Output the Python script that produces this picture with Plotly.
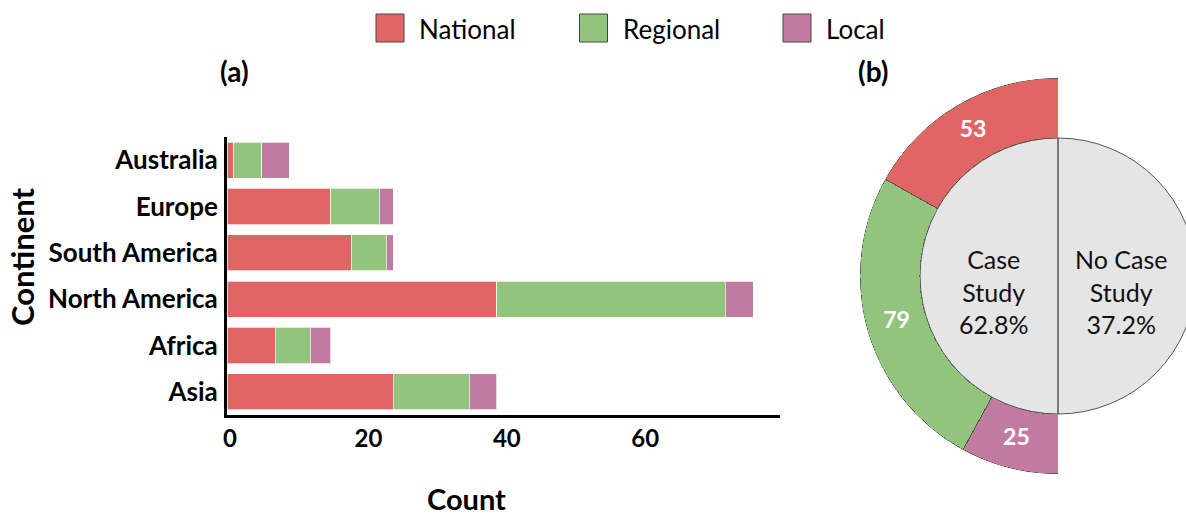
import plotly.graph_objects as go

# ---------------- data ----------------
continents = ["Australia", "Europe", "South America", "North America", "Africa", "Asia"]
national = [1, 15, 18, 39, 7, 24]
regional = [4, 7, 5, 33, 5, 11]
local = [4, 2, 1, 4, 3, 4]

scale_names = ["National", "Regional", "Local"]
case_study_by_scale = [53, 79, 25]
no_case_study = 93

colors = ["#E06666", "#93C47D", "#C27BA0"]

W, H = 1186, 518
FONT = "Lato"


def px(x):
    return x / W


def py(y):
    return 1 - y / H


def label(text, x, y, size, **kw):
    font = dict(family=FONT, size=size, color=kw.pop("color", "black"))
    if "weight" in kw:
        font["weight"] = kw.pop("weight")
    d = dict(text=text, x=px(x), y=py(y), xref="paper", yref="paper",
             xanchor=kw.pop("xanchor", "center"), yanchor="middle",
             showarrow=False, font=font)
    d.update(kw)
    return d


fig = go.Figure()

# ---------------- (a) stacked horizontal bars ----------------
for name, vals, col in zip(scale_names, [national, regional, local], colors):
    fig.add_trace(go.Bar(
        y=continents, x=vals, name=name, orientation="h",
        marker=dict(color=col, line=dict(color="rgba(255,255,255,0.7)", width=1)),
        showlegend=False,
    ))

fig.update_layout(
    barmode="stack",
    bargap=0.22,
    xaxis=dict(
        domain=[px(227), px(780)], range=[0, 79.9], automargin=False,
        tickvals=[0, 20, 40, 60], showgrid=False, zeroline=False,
        showline=True, linecolor="black", linewidth=3,
        ticks="", ticklabelstandoff=0, ticklabelshift=3,
        tickfont=dict(family=FONT, size=24, color="black", weight="bold"),
        anchor="y",
    ),
    yaxis=dict(
        domain=[py(415), py(137)], autorange="reversed", automargin=False,
        showgrid=False, zeroline=False,
        showline=True, linecolor="black", linewidth=3,
        ticks="", ticklabelstandoff=1,
        tickfont=dict(family=FONT, size=26, color="black", weight="bold"),
        anchor="x",
    ),
)

# ---------------- (b) half ring + inner circle ----------------
CX, CY = 1058, 276
R_OUT, R_IN = 198, 138

total_case = sum(case_study_by_scale)
thetas, widths = [], []
cum = 0
for v in case_study_by_scale:
    w = v / total_case * 180
    thetas.append(cum + w / 2)
    widths.append(w)
    cum += w

fig.add_trace(go.Barpolar(
    r=[1] * len(case_study_by_scale), theta=thetas, width=widths,
    marker=dict(color=colors, line=dict(color="#555555", width=1)),
    subplot="polar", showlegend=False, hoverinfo="skip",
))
fig.add_trace(go.Scatterpolar(
    r=[0.5] * len(case_study_by_scale), theta=thetas, mode="text",
    text=[str(v) for v in case_study_by_scale],
    textfont=dict(family=FONT, size=23, color="white", weight="bold"),
    subplot="polar", showlegend=False, hoverinfo="skip",
))

fig.update_layout(polar=dict(
    domain=dict(x=[px(CX - R_OUT), px(CX)], y=[py(CY + R_OUT), py(CY - R_OUT)]),
    sector=[90, 270],
    hole=R_IN / R_OUT,
    bgcolor="rgba(0,0,0,0)",
    radialaxis=dict(visible=False, range=[0, 1]),
    angularaxis=dict(visible=False, rotation=90, direction="counterclockwise"),
))

shapes = [
    dict(type="circle", xref="paper", yref="paper",
         x0=px(CX - R_IN), x1=px(CX + R_IN), y0=py(CY + R_IN), y1=py(CY - R_IN),
         fillcolor="#E5E5E5", line=dict(color="#555555", width=1), layer="below"),
    dict(type="line", xref="paper", yref="paper",
         x0=px(CX), x1=px(CX), y0=py(CY + R_IN), y1=py(CY - R_IN),
         line=dict(color="#555555", width=1.5)),
]

grand_total = total_case + no_case_study
annotations = [
    label(f"Case<br>Study<br>{total_case / grand_total * 100:.1f}%", 993, 291, 25,
          color="#111111"),
    label(f"No Case<br>Study<br>{no_case_study / grand_total * 100:.1f}%", 1121, 291, 25,
          color="#111111"),
    # panel letters and axis titles
    label("<b>(a)</b>", 234, 71, 28),
    label("<b>(b)</b>", 873, 71, 28),
    label("<b>Continent</b>", 22, 257, 31, textangle=-90),
    label("<b>Count</b>", 466, 498, 29),
]

# legend: colour squares with labels
for i, (name, col) in enumerate(zip(scale_names, colors)):
    x0 = 376 + i * 203.5
    shapes.append(dict(type="rect", xref="paper", yref="paper",
                       x0=px(x0), x1=px(x0 + 28), y0=py(42), y1=py(14),
                       fillcolor=col, line=dict(color="#444444", width=1)))
    annotations.append(label(name, x0 + 41, 29, 26, xanchor="left"))

fig.update_layout(
    width=W, height=H,
    margin=dict(l=0, r=0, t=0, b=0),
    paper_bgcolor="white", plot_bgcolor="white",
    shapes=shapes, annotations=annotations,
)

fig.write_html("out.html")
